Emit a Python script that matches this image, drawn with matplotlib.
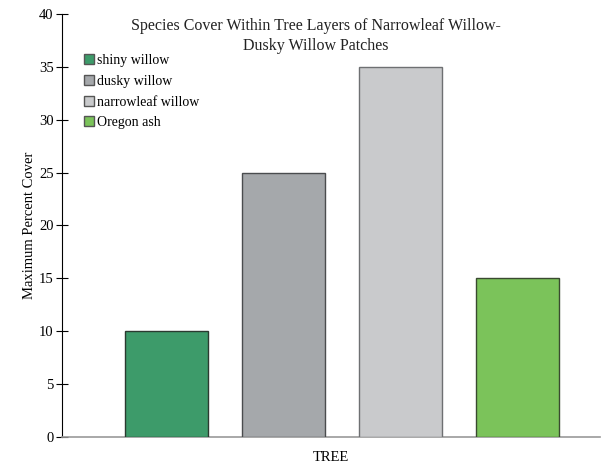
import numpy as np
import matplotlib.pyplot as plt
from matplotlib.patches import Patch

species = ['shiny willow', 'dusky willow', 'narrowleaf willow', 'Oregon ash']
cover = [10, 25, 35, 15]
colors = ['#3d9b6a', '#a5a8ab', '#c9cacc', '#7bc35a']
edges = ['#2a3a30', '#4a4c4e', '#6e7072', '#3a4a30']
yticks = [0, 5, 10, 15, 20, 25, 30, 35, 40]

plt.rcParams['font.family'] = ['Liberation Serif', 'DejaVu Serif']

fig = plt.figure(figsize=(6.08, 4.67), dpi=100, facecolor='w')
ax = fig.add_axes([62 / 608, 30 / 467, 538 / 608, 423 / 467])

x = np.arange(len(species))
ax.bar(x, cover, width=0.71, color=colors, edgecolor=edges, linewidth=1.0, zorder=3)

ax.set_xlim(-0.893, 3.705)
ax.set_ylim(0, 40)
ax.set_yticks(yticks)
ax.set_xticks([])
ax.tick_params(axis='y', direction='inout', length=8, width=0.8, labelsize=10.5, pad=2)

for s in ['top', 'right']:
    ax.spines[s].set_visible(False)
ax.spines['left'].set_linewidth(0.8)
ax.spines['bottom'].set_color('#999999')
ax.spines['bottom'].set_linewidth(1.2)

ax.set_ylabel('Maximum Percent Cover', fontsize=10.5, labelpad=2)
ax.set_xlabel('TREE', fontsize=10.5, labelpad=10)

fig.text(316 / 608, 1 - 36 / 467,
         'Species Cover Within Tree Layers of Narrowleaf Willow-\nDusky Willow Patches',
         ha='center', va='center', fontsize=11.5, color='#222222', linespacing=1.3)

handles = [Patch(facecolor=c, edgecolor='#555555', linewidth=1.0) for c in colors]
leg = ax.legend(handles, species, loc='upper left', bbox_to_anchor=(0.03, 0.918),
                frameon=False, fontsize=10, handlelength=0.75, handleheight=0.75,
                handletextpad=0.2, labelspacing=0.55, borderaxespad=0)

fig.savefig('out.png', dpi=100)
